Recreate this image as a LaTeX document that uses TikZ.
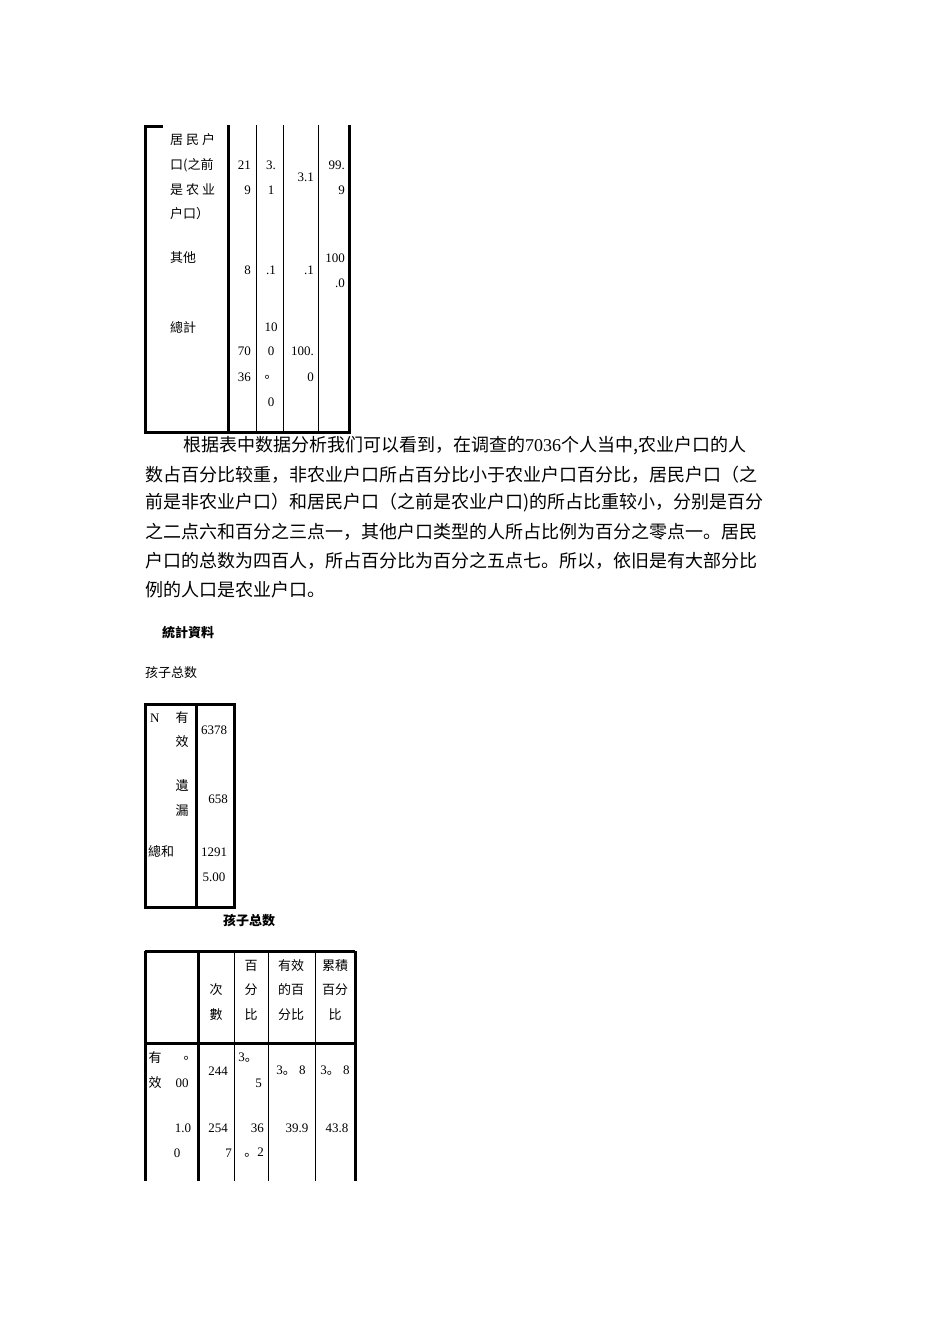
\documentclass[tikz,border=0pt]{standalone}
\usepackage{fontspec}
\setmainfont{Liberation Serif}
\newfontfamily\cjk{Noto Sans CJK SC}
\newcommand{\dotc}{{\cjk 。}}
\begin{document}
\begin{tikzpicture}[x=1pt,y=-1pt,
  t/.style={inner sep=0pt,font=\fontsize{13}{13}\selectfont},
  tc/.style={inner sep=0pt,font=\fontsize{13}{13}\selectfont\cjk},
  b/.style={inner sep=0pt,anchor=west,font=\fontsize{18}{18}\selectfont\cjk},
  thick line/.style={line width=3pt},
  thin line/.style={line width=1pt}]
\useasboundingbox[fill=white] (0,0) rectangle (950,1344);
% table 1
\draw[thick line] (163,126)--(145,126)--(145,432)--(349,432)--(349,125);
\draw[thick line] (228,125)--(228,432);
\foreach \x in {256,283,318} \draw[thin line] (\x,125)--(\x,432);
\foreach \s/\y [count=\i] in {居\ 民\ 户/140,口(之前/165,是\ 农\ 业/190,户口）/214,其他/258,總計/328}
  \node[tc,anchor=west] (a\i) at (170,\y) {\s};
\foreach \s/\y [count=\i] in {21/165,9/190,8/270,70/351,36/377}
  \node[t,anchor=east] (b\i) at (251,\y) {\s};
\foreach \s/\y [count=\i] in {3./165,1/190,.1/270,10/327,0/351,\dotc/377,0/402}
  \node[t] (c\i) at (271,\y) {\s};
\foreach \s/\y [count=\i] in {3.1/177,.1/270,100./351,0/377}
  \node[t,anchor=east] (d\i) at (314,\y) {\s};
\foreach \s/\y [count=\i] in {99./165,9/190,100/258,.0/283}
  \node[t,anchor=east] (e\i) at (345,\y) {\s};
% paragraph
\node[b] (p1) at (183,446) {根据表中数据分析我们可以看到，在调查的\rmfamily 7036\cjk 个人当中,农业户口的人};
\node[b] (p2) at (145,475) {数占百分比较重，非农业户口所占百分比小于农业户口百分比，居民户口（之};
\node[b] (p3) at (145,503) {前是非农业户口）和居民户口（之前是农业户口)的所占比重较小，分别是百分};
\node[b] (p4) at (145,532) {之二点六和百分之三点一，其他户口类型的人所占比例为百分之零点一。居民};
\node[b] (p5) at (145,561) {户口的总数为四百人，所占百分比为百分之五点七。所以，依旧是有大部分比};
\node[b] (p6) at (145,590) {例的人口是农业户口。};
\node[tc,anchor=west,font=\fontsize{13}{13}\selectfont\cjk\bfseries] (h1) at (162,633) {統計資料};
\node[tc,anchor=west] (h2) at (145,673) {孩子总数};
% table 2
\draw[thick line] (145,704) rectangle (234,907);
\draw[thick line] (196,704)--(196,907);
\node[t,anchor=west] (n1) at (150,718) {N};
\foreach \s/\y [count=\i] in {有/718,效/742,遺/786,漏/811}
  \node[tc] (m\i) at (182,\y) {\s};
\node[t] (v1) at (214,730) {6378};
\node[t] (v2) at (218,799) {658};
\node[tc,anchor=west] (v3) at (148,852) {總和};
\node[t] (v4) at (214,852) {1291};
\node[t] (v5) at (214,877) {5.00};
\node[tc,font=\fontsize{13}{13}\selectfont\cjk\bfseries] (cap) at (249,921) {孩子总数};
% table 3
\draw[thick line] (145,951)--(355,951);
\draw[thick line] (145,1043)--(355,1043);
\foreach \x in {145,198,355} \draw[thick line] (\x,951)--(\x,1181);
\foreach \x in {234,268,315} \draw[thin line] (\x,951)--(\x,1181);
\foreach \s/\x/\y [count=\i] in {次/216/990,數/216/1015,百/251/966,分/251/990,比/251/1015,
  有效/291/966,的百/291/990,分比/291/1015,累積/335/966,百分/335/990,比/335/1015}
  \node[tc] (hd\i) at (\x,\y) {\s};
\foreach \s/\x/\y [count=\i] in {有/155/1058,效/155/1083,\dotc/190/1058}
  \node[tc] (q\i) at (\x,\y) {\s};
\foreach \s/\x/\y [count=\i] in {00/182/1083,244/218/1071,
  3\dotc/248/1058,3\dotc\ 8/291/1071,3\dotc\ 8/335/1071,1.0/183/1128,0/177/1153,254/218/1128,
  39.9/297/1128,43.8/337/1128}
  \node[t] (r\i) at (\x,\y) {\s};
\node[t,anchor=east] (s1) at (262,1083) {5};
\node[t,anchor=east] (s2) at (232,1153) {7};
\node[t,anchor=east] (s3) at (264,1128) {36};
\node[t,anchor=east] (s4) at (264,1153) {\dotc 2};
\end{tikzpicture}
\end{document}
